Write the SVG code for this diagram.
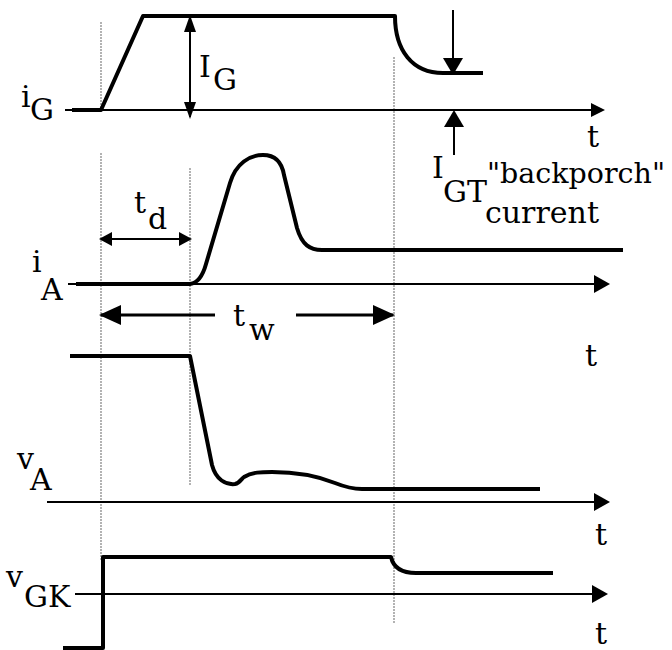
<svg xmlns="http://www.w3.org/2000/svg" width="672" height="650" viewBox="0 0 672 650">
<style>
.wave{fill:none;stroke:#000;stroke-width:4;stroke-linejoin:round;stroke-linecap:butt}
.axis{fill:none;stroke:#000;stroke-width:2}
.dim{fill:none;stroke:#000;stroke-width:2}
.dimb{fill:none;stroke:#000;stroke-width:3}
.guide{fill:none;stroke:#8a8a8a;stroke-width:1.3;stroke-dasharray:2 1}
text{font-family:"DejaVu Serif","Liberation Serif",serif;font-size:30px;fill:#000}
.sm{font-size:28.5px}
</style>
<defs>
<marker id="ax" viewBox="0 0 16 18" refX="14" refY="9" markerWidth="16" markerHeight="18" markerUnits="userSpaceOnUse" orient="auto"><path d="M0,0 L16,9 L0,18 z"/></marker>
<marker id="ax2" viewBox="0 0 14 14" refX="12" refY="7" markerWidth="14" markerHeight="14" markerUnits="userSpaceOnUse" orient="auto"><path d="M0,0 L14,7 L0,14 z"/></marker>
<marker id="ig" viewBox="0 0 17 12" refX="15" refY="6" markerWidth="17" markerHeight="12" markerUnits="userSpaceOnUse" orient="auto-start-reverse"><path d="M0,0 L17,6 L0,12 z"/></marker>
<marker id="td" viewBox="0 0 13 14" refX="11" refY="7" markerWidth="13" markerHeight="14" markerUnits="userSpaceOnUse" orient="auto-start-reverse"><path d="M0,0 L13,7 L0,14 z"/></marker>
<marker id="tw" viewBox="0 0 22 20" refX="20" refY="10" markerWidth="22" markerHeight="20" markerUnits="userSpaceOnUse" orient="auto"><path d="M0,0 L22,10 L0,20 z"/></marker>
<marker id="gt" viewBox="0 0 17 20" refX="15" refY="10" markerWidth="17" markerHeight="20" markerUnits="userSpaceOnUse" orient="auto"><path d="M0,0 L17,10 L0,20 z"/></marker>
</defs>
<rect width="672" height="650" fill="#fff"/>
<g id="guides">
<path class="guide" d="M101,22 V110 M101,153 V560 M190,168 V485 M394,57 V623"/>
</g>
<g id="connectors">
<path class="axis" d="M65,110 H603" marker-end="url(#ax2)"/>
<path class="axis" d="M68,284 H608" marker-end="url(#ax)"/>
<path class="axis" d="M47,502 H608" marker-end="url(#ax)"/>
<path class="axis" d="M75,594 H606" marker-end="url(#ax)"/>
<path class="dim" d="M190,17 V117" marker-start="url(#ig)" marker-end="url(#ig)"/>
<path class="dim" d="M101,239 H190" marker-start="url(#td)" marker-end="url(#td)"/>
<path class="dimb" d="M215,315 H101" marker-end="url(#tw)"/>
<path class="dimb" d="M296,315 H393" marker-end="url(#tw)"/>
<path class="dim" d="M453,10 V73" marker-end="url(#gt)"/>
<path class="dim" d="M454,155 V112" marker-end="url(#gt)"/>
</g>
<g id="iG">
<path class="wave" d="M72,110 L101,110 L143,16 L395,16 C395,50 412,73 443,73 L483,73"/>
<text x="21" y="107">i</text><text x="30" y="120">G</text>
<text x="199" y="77">I</text><text x="213" y="90">G</text>
<text x="587" y="147">t</text>
<text x="432" y="178">I</text><text x="443" y="202">GT</text>
<text class="sm" x="487" y="183">"backporch"</text>
<text x="485" y="223">current</text>
</g>
<g id="iA">
<path class="wave" d="M76,284 L190,284 C198,283 203,275 206,264 L230,183 C236,163 250,155 263,155 C276,155 282,163 284,175 L297,228 C302,245 310,250 322,250 L623,250"/>
<text x="134" y="213">t</text><text x="148" y="229">d</text>
<text x="32" y="272">i</text><text x="41" y="300">A</text>
<text x="233" y="326">t</text><text x="249" y="340">w</text>
<text x="585" y="366">t</text>
</g>
<g id="vA">
<path class="wave" d="M70,356 L190,356 L212,465 C216,480 226,485 235,484 C240,483 242,478 244,477 C252,472 262,472 272,472 C300,472 320,477 335,483 C345,487 352,489 362,489 L540,489"/>
<text x="17" y="469">v</text><text x="30" y="490">A</text>
<text x="595" y="545">t</text>
</g>
<g id="vGK">
<path class="wave" d="M63,648 L103,648 L103,557 L391,557 C393,566 400,573 416,573 L553,573"/>
<text x="6" y="587">v</text><text x="24" y="607">GK</text>
<text x="595" y="644">t</text>
</g>
</svg>
